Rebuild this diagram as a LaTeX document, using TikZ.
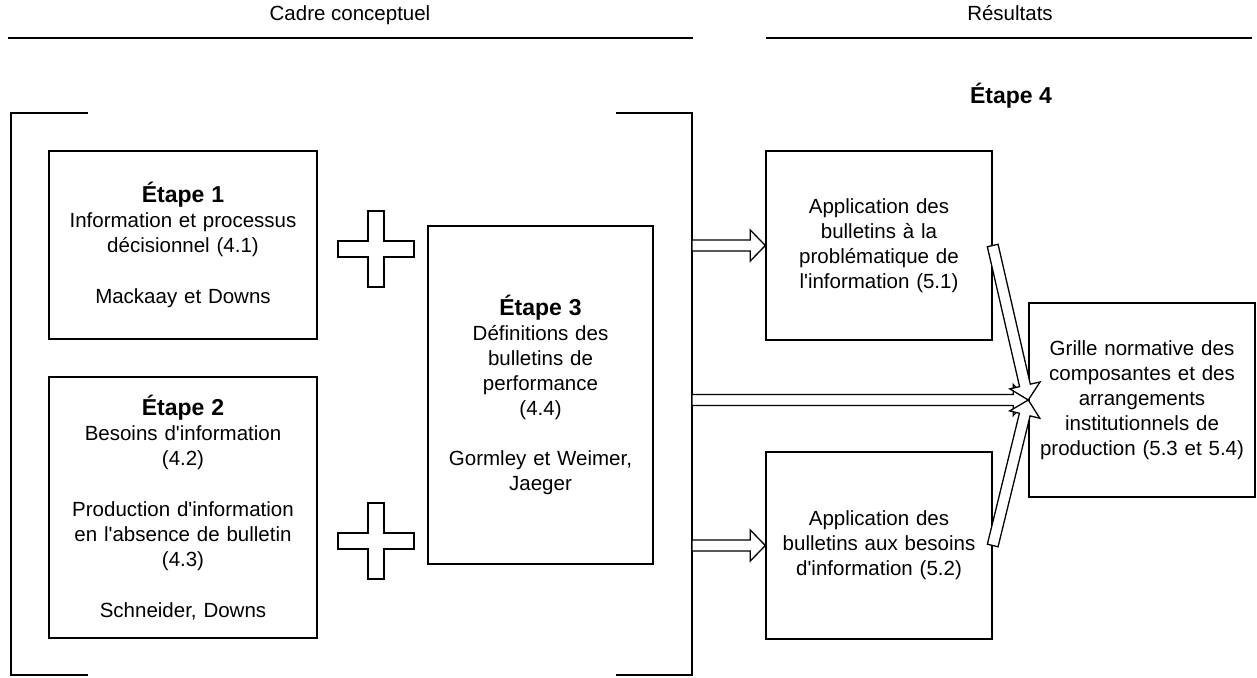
\documentclass[tikz,border=0pt]{standalone}
\usepackage{fontspec}
\setmainfont{Liberation Sans}[Ligatures=TeXOff]
\usetikzlibrary{calc}
\tikzset{
  box/.style={draw, line width=1.4pt, rectangle, inner sep=0pt, align=center,
    font=\fontsize{20.5}{25}\selectfont},
  rule/.style={line width=1.4pt},
  title/.style={anchor=base, font=\fontsize{20.5}{25}\selectfont},
  blockarr/.style={draw, fill=white, line width=1.3pt, line join=miter},
  plusshape/.style={draw, fill=white, line width=1.3pt},
}
\newcommand\hd[1]{{\bfseries\fontsize{23}{25}\selectfont #1}}
\newcommand\blockarrow[2]{%
  \path ($(#2)!15pt!(#1)$) coordinate (hb);
  \draw[blockarr] ($(#1)!5.5pt!90:(#2)$) -- ($(hb)!5.5pt!90:(#2)$) -- ($(hb)!15.5pt!90:(#2)$)
    -- (#2) -- ($(hb)!15.5pt!-90:(#2)$) -- ($(hb)!5.5pt!-90:(#2)$) -- ($(#1)!5.5pt!-90:(#2)$) -- cycle;}
\newcommand\plussign[2]{%
  \draw[plusshape, shift={(#1,#2)}] (-8,-38) -- (8,-38) -- (8,-8) -- (38,-8) -- (38,8) -- (8,8)
    -- (8,38) -- (-8,38) -- (-8,8) -- (-38,8) -- (-38,-8) -- (-8,-8) -- cycle;}
\begin{document}
\begin{tikzpicture}[x=1pt,y=-1pt]
\useasboundingbox (0,0) rectangle (1257,677);
% headers
\node[title] (tcadre) at (350,21) {Cadre conceptuel};
\node[title] (tres) at (1010,21) {Résultats};
\draw[rule] (8,38) -- (693,38);
\draw[rule] (766,38) -- (1252,38);
\node[anchor=base, font=\bfseries\fontsize{23}{25}\selectfont] (e4) at (1011,103) {Étape 4};
% bracket
\draw[rule] (88,113) -- (11,113) -- (11,675) -- (88,675);
\draw[rule] (616,113) -- (692,113) -- (692,675) -- (616,675);
% boxes
\node[box, minimum width=268pt, minimum height=188pt, text width=256pt] (b1) at (183,245)
  {\hd{Étape 1}\\Information et processus\\décisionnel (4.1)\\[26pt]Mackaay et Downs};
\node[box, minimum width=268pt, minimum height=261pt, text width=256pt] (b2) at (183,507.5)
  {\hd{Étape 2}\\Besoins d'information\\(4.2)\\[26pt]Production d'information\\en l'absence de bulletin\\(4.3)\\[26pt]Schneider, Downs};
\node[box, minimum width=225pt, minimum height=338pt, text width=213pt] (b3) at (540.5,395)
  {\hd{Étape 3}\\Définitions des\\bulletins de\\performance\\(4.4)\\[25pt]Gormley et Weimer,\\Jaeger};
\node[box, minimum width=226pt, minimum height=189pt, text width=214pt] (a1) at (879,245.5)
  {Application des\\bulletins à la\\problématique de\\l'information (5.1)};
\node[box, minimum width=226pt, minimum height=187pt, text width=214pt] (a2) at (879,545.5)
  {Application des\\bulletins aux besoins\\d'information (5.2)};
\node[box, minimum width=226pt, minimum height=194pt, text width=216pt] (g) at (1142,400)
  {Grille normative des\\composantes et des\\arrangements\\institutionnels de\\production (5.3 et 5.4)};
% plus signs
\plussign{376}{249}
\plussign{376}{541}
% arrow start points on the bracket
\coordinate (brA) at (692,245.5);
\coordinate (brB) at (692,400);
\coordinate (brC) at (692,545.5);
\blockarrow{brA}{a1.west}
\blockarrow{brC}{a2.west}
\blockarrow{brB}{g.west}
\blockarrow{a1.east}{g.west}
\blockarrow{a2.east}{g.west}
\end{tikzpicture}
\end{document}
